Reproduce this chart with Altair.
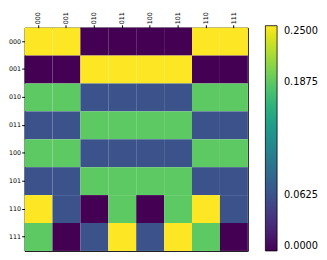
import altair as alt
import pandas as pd

labels = ["000", "001", "010", "011", "100", "101", "110", "111"]

Y = 0.25
G = 0.1875
B = 0.0625
D = 0.0

row_000 = [Y, Y, D, D, D, D, Y, Y]
row_001 = [D, D, Y, Y, Y, Y, D, D]
row_010 = [G, G, B, B, B, B, G, G]
row_011 = [B, B, G, G, G, G, B, B]
row_100 = [G, G, B, B, B, B, G, G]
row_101 = [B, B, G, G, G, G, B, B]
row_110 = [Y, B, D, G, D, G, Y, B]
row_111 = [G, D, B, Y, B, Y, G, D]

rows = [row_000, row_001, row_010, row_011, row_100, row_101, row_110, row_111]

tick_values = [0.0, 0.0625, 0.1875, 0.25]

records = []
for r, vals in zip(labels, rows):
    for c, v in zip(labels, vals):
        records.append({"row": r, "col": c, "value": v})
df = pd.DataFrame(records)

font = "DejaVu Sans"

chart = alt.Chart(df).mark_rect(strokeWidth=0).encode(
    x=alt.X("col:N", sort=labels, scale=alt.Scale(paddingInner=0, paddingOuter=0),
            axis=alt.Axis(orient="top", labelAngle=-90, title=None, labelFontSize=6.5,
                          labelFont=font, labelColor="black", tickColor="black",
                          tickSize=3, labelPadding=1, domain=False, grid=False)),
    y=alt.Y("row:N", sort=labels, scale=alt.Scale(paddingInner=0, paddingOuter=0),
            axis=alt.Axis(title=None, labelFontSize=6.5, labelFont=font, labelColor="black",
                          tickColor="black", tickSize=3, labelPadding=1,
                          domain=False, grid=False)),
    color=alt.Color("value:Q",
                    scale=alt.Scale(scheme="viridis", domain=[0, 0.25]),
                    legend=alt.Legend(title=None, direction="vertical", orient="none",
                                      legendX=247, legendY=-2,
                                      gradientLength=231, gradientThickness=12,
                                      gradientStrokeColor="black", gradientStrokeWidth=0.8,
                                      values=tick_values, format=".4f",
                                      labelFont=font, labelFontSize=10, labelColor="black",
                                      labelOffset=7, labelBaseline="middle",
                                      padding=0)),
).properties(
    width=229, height=229,
    autosize="none",
    padding={"left": 17, "top": 17, "right": 73, "bottom": 0},
).configure_view(stroke="black", strokeWidth=1)

chart.save("out.html", embed_options={"renderer": "svg", "actions": False})
